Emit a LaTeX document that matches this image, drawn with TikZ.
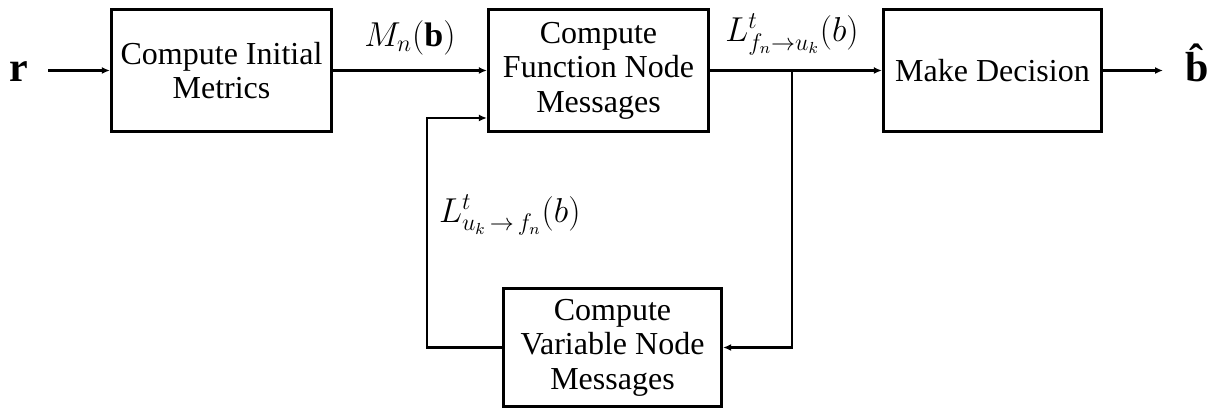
\documentclass[tikz,border=0pt]{standalone}
\usepackage{fontspec}
\setmainfont{Liberation Serif}
\usetikzlibrary{arrows.meta,positioning,calc}

\begin{document}
\begin{tikzpicture}[x=0.5pt,y=0.5pt,>={Latex[length=4pt,width=3.5pt]},
  blk/.style={draw,line width=1.6pt,inner sep=0pt,minimum width=110pt,
    minimum height=61pt,align=center,font=\fontsize{16}{17.3}\selectfont},
  sig/.style={line width=1.1pt},
  lbl/.style={font=\fontsize{17}{17}\selectfont},
  io/.style={inner sep=0pt,anchor=base,font=\fontsize{21}{21}\selectfont\bfseries}]
  \useasboundingbox (0,0) rectangle (1224,-410);
  % blocks
  \node[blk] (cim) at (221.5,-70.5) {Compute Initial\\Metrics};
  \node[blk] (cfn) at (598.5,-70.5) {Compute\\Function Node\\Messages};
  \node[blk,minimum width=109pt] (md) at (992.5,-70.5) {Make Decision};
  \node[blk,minimum width=109pt,minimum height=59pt] (cvn) at (612.5,-347.5) {Compute\\Variable Node\\Messages};
  % input / output
  \node[io] (r) at (19,-82) {r};
  \node[io] (bhat) at (1197,-82) {\^b};
  \coordinate (rin) at (48,-70.5);
  \coordinate (bout) at (1163,-70.5);
  \coordinate (split) at (792,-70.5);
  \coordinate (fbin) at (427,-118);
  % connectors
  \draw[sig,->] (rin) -- (cim);
  \draw[sig,->] (cim) -- (cfn) node[lbl,midway,above=4pt] {$M_n(\mathbf{b})$};
  \draw[sig] (cfn) -- (split) node[lbl,pos=1,above=4pt] {$L^t_{f_n\to u_k}(b)$};
  \draw[sig,->] (split) -- (md);
  \draw[sig,->] (md) -- (bout);
  \draw[sig,->] (split) |- (cvn);
  \draw[sig,->] (cvn) -| (fbin) -- (fbin -| cfn.west);
  \node[lbl,anchor=west] (vlab) at (432,-215) {$L^t_{u_k\,\to\,f_n}(b)$};
\end{tikzpicture}
\end{document}
